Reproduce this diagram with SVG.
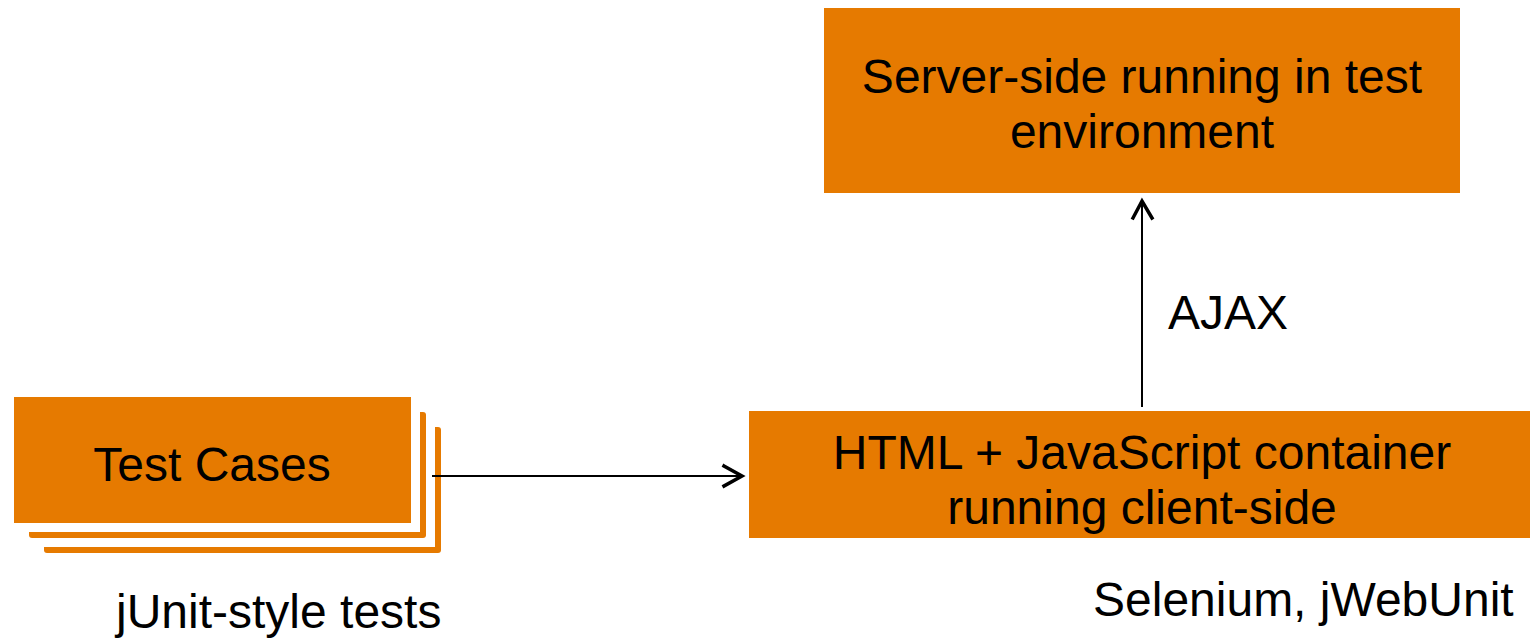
<svg xmlns="http://www.w3.org/2000/svg" width="1532" height="640" viewBox="0 0 1532 640">
<style>
.box{fill:#E67A00;}
.gap{fill:#FFFFFF;}
.t{font-family:"Liberation Sans",Arial,sans-serif;font-size:48px;fill:#000000;}
.c{text-anchor:middle;}
.ln{stroke:#000000;stroke-width:2;fill:none;}
.hd{stroke:#000000;stroke-width:3.5;fill:none;stroke-linecap:square;}
</style>
<rect width="1532" height="640" fill="#FFFFFF"/>
<g id="test-cases">
<rect class="box" x="44" y="427" width="397" height="126" rx="3"/>
<rect class="gap" x="20" y="403" width="415" height="144"/>
<rect class="box" x="29" y="412" width="397" height="126" rx="3"/>
<rect class="gap" x="5" y="388" width="415" height="144"/>
<rect class="box" x="14" y="397" width="397" height="126"/>
<text class="t c" x="212" y="481">Test Cases</text>
</g>
<g id="junit-label">
<text class="t" x="116" y="628">jUnit-style tests</text>
</g>
<g id="client">
<rect class="box" x="749" y="411" width="781" height="127"/>
<text class="t c" x="1142" y="469">HTML + JavaScript container</text>
<text class="t c" x="1142" y="524">running client-side</text>
</g>
<g id="selenium-label">
<text class="t" x="1093" y="616">Selenium, jWebUnit</text>
</g>
<g id="server">
<rect class="box" x="824" y="8" width="636" height="185"/>
<text class="t c" x="1142" y="93">Server-side running in test</text>
<text class="t c" x="1142" y="148">environment</text>
</g>
<g id="connectors">
<line class="ln" x1="432" y1="476" x2="741" y2="476"/>
<polyline class="hd" points="724,466 742,476 724,486"/>
<line class="ln" x1="1142" y1="407" x2="1142" y2="201"/>
<polyline class="hd" points="1133,218 1142,201 1152,218"/>
<text class="t" x="1168" y="329">AJAX</text>
</g>
</svg>
